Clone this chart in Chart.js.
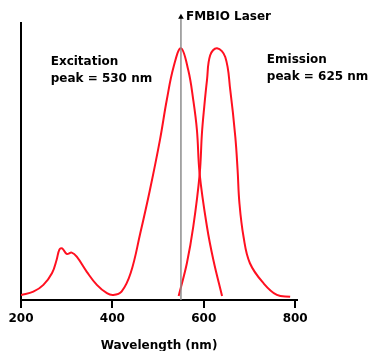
<!DOCTYPE html>
<html>
<head>
<meta charset="utf-8">
<script src="https://cdn.jsdelivr.net/npm/chart.js@4.4.1/dist/chart.umd.min.js"></script>
<style>
  html, body { margin: 0; padding: 0; background: #fff; }
  #wrap { width: 378px; height: 351px; }
</style>
</head>
<body>
<div id="wrap"><canvas id="spectrum"></canvas></div>
<script>
// excitation spectrum (wavelength nm -> relative intensity)
const exWl  = [200, 227, 249, 268, 278, 284, 290, 300, 311, 322, 344, 366, 388, 402, 420, 440, 461, 482, 504, 519, 534, 550, 566, 577, 585, 591, 607, 621, 640];
const exVal = [0.02, 0.033, 0.06, 0.107, 0.16, 0.20, 0.205, 0.183, 0.188, 0.172, 0.112, 0.06, 0.027, 0.02, 0.033, 0.107, 0.265, 0.436, 0.635, 0.794, 0.926, 1.0, 0.913, 0.794, 0.675, 0.5, 0.291, 0.159, 0.016];

// emission spectrum
const emWl  = [545, 563, 577, 591, 596, 601, 607, 614, 629, 647, 658, 669, 674, 678, 687, 701, 731, 760, 789];
const emVal = [0.016, 0.146, 0.291, 0.5, 0.663, 0.767, 0.873, 0.972, 1.0, 0.965, 0.833, 0.648, 0.516, 0.385, 0.251, 0.146, 0.066, 0.02, 0.013];

// laser line
const laserWl = 550;
const laserLevels = [0, 1.125];

const xTicks = [200, 400, 600, 800];
const xTitle = 'Wavelength (nm)';
const laserLabel = 'FMBIO Laser';
const exLabel = ['Excitation', 'peak = 530 nm'];
const emLabel = ['Emission', 'peak = 625 nm'];

const FONT = '"DejaVu Sans", sans-serif';
const RED = '#ff1020';

function pts(xs, ys) {
    return xs.map((x, i) => ({x: x, y: ys[i]}));
}

// arrow head and text labels, placed in data coordinates
const notes = {
    id: 'notes',
    afterDatasetsDraw(chart) {
        const {ctx, scales: {x, y}} = chart;
        const lx = x.getPixelForValue(laserWl);
        const ly = y.getPixelForValue(laserLevels[1]);
        ctx.save();
        ctx.fillStyle = '#000';
        ctx.beginPath();
        ctx.moveTo(lx, ly - 3);
        ctx.lineTo(lx + 2.8, ly + 2);
        ctx.lineTo(lx - 2.8, ly + 2);
        ctx.closePath();
        ctx.fill();

        ctx.font = 'bold 12px ' + FONT;
        ctx.textBaseline = 'middle';
        ctx.textAlign = 'left';
        ctx.fillText(laserLabel, lx + 5, y.getPixelForValue(1.126));
        ctx.fillText(exLabel[0], x.getPixelForValue(265), y.getPixelForValue(0.946));
        ctx.fillText(exLabel[1], x.getPixelForValue(265), y.getPixelForValue(0.877));
        ctx.fillText(emLabel[0], x.getPixelForValue(738), y.getPixelForValue(0.952));
        ctx.fillText(emLabel[1], x.getPixelForValue(738), y.getPixelForValue(0.885));
        ctx.restore();
    }
};

new Chart(document.getElementById('spectrum'), {
    type: 'line',
    data: {
        datasets: [{
            label: laserLabel,
            data: laserLevels.map(v => ({x: laserWl, y: v})),
            borderColor: '#8c8c8c',
            borderWidth: 1.5,
            pointRadius: 0,
            clip: false
        }, {
            label: 'Excitation',
            data: pts(exWl, exVal),
            borderColor: RED,
            borderWidth: 2,
            pointRadius: 0,
            tension: 0.4
        }, {
            label: 'Emission',
            data: pts(emWl, emVal),
            borderColor: RED,
            borderWidth: 2,
            pointRadius: 0,
            tension: 0.4
        }]
    },
    options: {
        responsive: true,
        maintainAspectRatio: false,
        animation: false,
        layout: { padding: { top: 23, right: 81, left: 0, bottom: 0 } },
        plugins: {
            legend: { display: false },
            tooltip: { enabled: false }
        },
        scales: {
            x: {
                type: 'linear',
                min: 200,
                max: 804,
                afterBuildTicks: (s) => { s.ticks = xTicks.map(v => ({value: v})); },
                afterFit: (s) => { s.height = 51; },
                grid: {
                    display: true,
                    drawOnChartArea: false,
                    drawTicks: true,
                    tickLength: 8,
                    color: '#000',
                    lineWidth: 2
                },
                border: { display: true, color: '#000', width: 2 },
                ticks: {
                    color: '#000',
                    padding: 4,
                    maxRotation: 0,
                    font: { family: FONT, size: 12, weight: 'bold' }
                },
                title: {
                    display: true,
                    text: xTitle,
                    color: '#000',
                    padding: { top: 0, bottom: -2 },
                    font: { family: FONT, size: 12, weight: 'bold' }
                }
            },
            y: {
                min: 0,
                max: 1.1,
                afterFit: (s) => { s.width = 21; },
                grid: { display: false, drawTicks: false },
                border: { display: true, color: '#000', width: 2 },
                ticks: { display: false }
            }
        }
    },
    plugins: [notes]
});
</script>
</body>
</html>
